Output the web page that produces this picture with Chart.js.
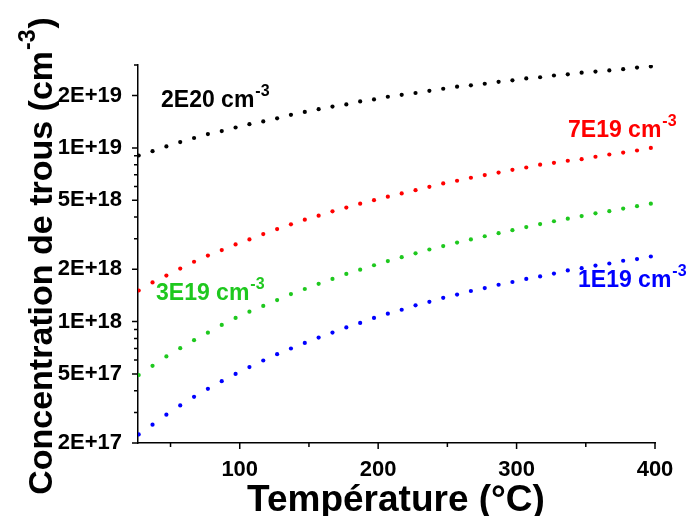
<!DOCTYPE html>
<html>
<head>
<meta charset="utf-8">
<script src="https://cdn.jsdelivr.net/npm/chart.js@4/dist/chart.umd.min.js"></script>
<style>
  html, body { margin: 0; padding: 0; background: #fff; }
  #wrap { width: 689px; height: 516px; }
</style>
</head>
<body>
<div id="wrap"><canvas id="c" width="689" height="516"></canvas></div>
<script>
// Température (°C)
const temps = [27, 37, 47, 57, 67, 77, 87, 97, 107, 117, 127, 137, 147, 157, 167, 177, 187, 197, 207,
  217, 227, 237, 247, 257, 267, 277, 287, 297, 307, 317, 327, 337, 347, 357, 367, 377, 387, 397];

// concentration de trous (cm-3)
const p2E20 = [9.04e18, 9.57e18, 1.02e19, 1.08e19, 1.14e19, 1.20e19, 1.25e19, 1.31e19, 1.37e19, 1.42e19,
  1.48e19, 1.55e19, 1.61e19, 1.67e19, 1.73e19, 1.78e19, 1.85e19, 1.90e19, 1.97e19, 2.02e19,
  2.07e19, 2.13e19, 2.19e19, 2.25e19, 2.29e19, 2.34e19, 2.40e19, 2.45e19, 2.51e19, 2.55e19,
  2.61e19, 2.65e19, 2.71e19, 2.75e19, 2.79e19, 2.84e19, 2.90e19, 2.94e19];
const p7E19 = [1.51e18, 1.68e18, 1.84e18, 2.02e18, 2.21e18, 2.40e18, 2.58e18, 2.78e18, 2.97e18, 3.19e18,
  3.41e18, 3.63e18, 3.86e18, 4.07e18, 4.31e18, 4.53e18, 4.77e18, 5.00e18, 5.24e18, 5.47e18,
  5.71e18, 5.97e18, 6.24e18, 6.47e18, 6.73e18, 6.97e18, 7.21e18, 7.48e18, 7.71e18, 8.00e18,
  8.20e18, 8.43e18, 8.61e18, 8.89e18, 9.16e18, 9.40e18, 9.66e18, 1.00e19];
const p3E19 = [4.92e17, 5.56e17, 6.30e17, 7.03e17, 7.82e17, 8.63e17, 9.57e17, 1.05e18, 1.14e18, 1.23e18,
  1.33e18, 1.44e18, 1.54e18, 1.65e18, 1.76e18, 1.88e18, 1.99e18, 2.11e18, 2.23e18, 2.35e18,
  2.47e18, 2.60e18, 2.72e18, 2.85e18, 2.97e18, 3.10e18, 3.23e18, 3.36e18, 3.50e18, 3.64e18,
  3.78e18, 3.91e18, 4.05e18, 4.20e18, 4.32e18, 4.47e18, 4.62e18, 4.77e18];
const p1E19 = [2.24e17, 2.55e17, 2.91e17, 3.29e17, 3.69e17, 4.10e17, 4.54e17, 5.00e17, 5.47e17, 5.97e17,
  6.49e17, 7.00e17, 7.54e17, 8.09e17, 8.65e17, 9.25e17, 9.82e17, 1.05e18, 1.11e18, 1.17e18,
  1.24e18, 1.30e18, 1.37e18, 1.43e18, 1.50e18, 1.56e18, 1.63e18, 1.69e18, 1.76e18, 1.82e18,
  1.89e18, 1.97e18, 2.03e18, 2.10e18, 2.16e18, 2.24e18, 2.29e18, 2.37e18];

const seriesNames = ['2E20', '7E19', '3E19', '1E19'];
const seriesColors = ['#000000', '#ff0000', '#1ec81e', '#0000ff'];

// axes
const xMajor = [100, 200, 300, 400];
const xMinor = [50, 150, 250, 350];
const yMajor = [2e17, 5e17, 1e18, 2e18, 5e18, 1e19, 2e19];
const yTickLabels = ['2E+17', '5E+17', '1E+18', '2E+18', '5E+18', '1E+19', '2E+19'];
const yMinor = [3e17, 4e17, 6e17, 7e17, 8e17, 9e17, 3e18, 4e18, 6e18, 7e18, 8e18, 9e18, 3e19];

const FONT = "'Liberation Sans', Arial, sans-serif";

// texte avec exposant (cm-3)
function drawSup(ctx, base, sup, x, y, size, color, align) {
  ctx.save();
  ctx.fillStyle = color;
  ctx.textBaseline = 'alphabetic';
  ctx.font = 'bold ' + size + 'px ' + FONT;
  const wBase = ctx.measureText(base).width;
  const supSize = Math.round(size * 0.68);
  ctx.font = 'bold ' + supSize + 'px ' + FONT;
  const wSup = ctx.measureText(sup[0]).width;
  let tail = sup[1] || '';
  ctx.font = 'bold ' + size + 'px ' + FONT;
  const wTail = ctx.measureText(tail).width;
  let x0 = x;
  if (align === 'center') x0 = x - (wBase + wSup + wTail) / 2;
  ctx.textAlign = 'left';
  ctx.fillText(base, x0, y);
  ctx.font = 'bold ' + supSize + 'px ' + FONT;
  ctx.fillText(sup[0], x0 + wBase + 1, y - size * 0.5);
  ctx.font = 'bold ' + size + 'px ' + FONT;
  if (tail) ctx.fillText(tail, x0 + wBase + wSup + 2, y);
  ctx.restore();
}

const decorPlugin = {
  id: 'decor',
  afterDraw(chart) {
    const ctx = chart.ctx;
    const xs = chart.scales.x, ys = chart.scales.y;
    const area = chart.chartArea;
    ctx.save();
    ctx.strokeStyle = '#000';
    ctx.lineWidth = 1.5;
    ctx.beginPath();
    xMajor.forEach(v => { const p = xs.getPixelForValue(v); ctx.moveTo(p, area.bottom); ctx.lineTo(p, area.bottom + 6); });
    xMinor.forEach(v => { const p = xs.getPixelForValue(v); ctx.moveTo(p, area.bottom); ctx.lineTo(p, area.bottom + 4); });
    yMajor.forEach(v => { const p = ys.getPixelForValue(v); ctx.moveTo(area.left, p); ctx.lineTo(area.left - 6, p); });
    yMinor.forEach(v => { const p = ys.getPixelForValue(v); ctx.moveTo(area.left, p); ctx.lineTo(area.left - 4, p); });
    // le coin de l'axe x dépasse un peu à gauche
    ctx.moveTo(area.left - 4, area.bottom); ctx.lineTo(area.left, area.bottom);
    ctx.stroke();
    ctx.restore();

    // titres des axes
    drawSup(ctx, 'Température (°C)', [''], 396, 511, 37, '#000', 'center');
    ctx.save();
    ctx.translate(52, 257);
    ctx.rotate(-Math.PI / 2);
    drawSup(ctx, 'Concentration de trous (cm', ['-3', ')'], 0, 0, 34, '#000', 'center');
    ctx.restore();

    // étiquettes des courbes
    drawSup(ctx, seriesNames[0] + ' cm', ['-3'], 161, 107, 23, seriesColors[0], 'left');
    drawSup(ctx, seriesNames[1] + ' cm', ['-3'], 568, 137, 23, seriesColors[1], 'left');
    drawSup(ctx, seriesNames[2] + ' cm', ['-3'], 156, 300, 23, seriesColors[2], 'left');
    drawSup(ctx, seriesNames[3] + ' cm', ['-3'], 578, 287, 23, seriesColors[3], 'left');
  }
};

const allSeries = [p2E20, p7E19, p3E19, p1E19];
const datasets = allSeries.map((vals, i) => ({
  label: seriesNames[i],
  data: temps.map((t, j) => ({ x: t, y: vals[j] })),
  showLine: false,
  pointRadius: 2.1,
  pointHoverRadius: 2.1,
  pointBorderWidth: 0,
  pointBackgroundColor: seriesColors[i],
  borderColor: seriesColors[i]
}));

new Chart(document.getElementById('c'), {
  type: 'scatter',
  data: { datasets },
  options: {
    responsive: false,
    animation: false,
    events: [],
    layout: { padding: { left: 0, top: 65, right: 34, bottom: 0 } },
    plugins: { legend: { display: false }, tooltip: { enabled: false } },
    scales: {
      x: {
        type: 'linear',
        min: 26.5,
        max: 400,
        afterBuildTicks: s => { s.ticks = xMajor.map(v => ({ value: v })); },
        afterFit: s => { s.height = 73; },
        grid: { display: false, drawTicks: false },
        border: { display: true, color: '#000', width: 1.5 },
        ticks: {
          padding: 14,
          color: '#000',
          maxRotation: 0,
          font: { family: FONT, size: 22, weight: 'bold' },
          callback: v => String(v)
        }
      },
      y: {
        type: 'logarithmic',
        min: 2e17,
        max: 3e19,
        afterBuildTicks: s => { s.ticks = yMajor.map(v => ({ value: v })); },
        afterFit: s => { s.width = 138; },
        grid: { display: false, drawTicks: false },
        border: { display: true, color: '#000', width: 1.5 },
        ticks: {
          padding: 16,
          color: '#000',
          font: { family: FONT, size: 22, weight: 'bold' },
          callback: (v, i) => yTickLabels[i]
        }
      }
    }
  },
  plugins: [decorPlugin]
});
</script>
</body>
</html>
